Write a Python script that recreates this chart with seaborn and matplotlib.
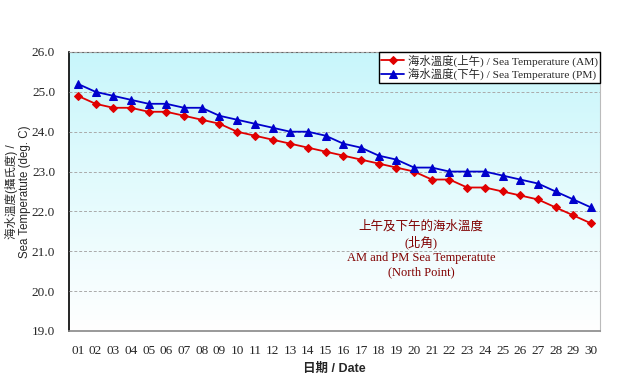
import seaborn as sns
import pandas as pd
import numpy as np
import matplotlib.pyplot as plt
from matplotlib.colors import LinearSegmentedColormap

days = ['%02d' % d for d in range(1, 31)]
am_temp = [24.9, 24.7, 24.6, 24.6, 24.5, 24.5, 24.4, 24.3, 24.2, 24.0,
           23.9, 23.8, 23.7, 23.6, 23.5, 23.4, 23.3, 23.2, 23.1, 23.0,
           22.8, 22.8, 22.6, 22.6, 22.5, 22.4, 22.3, 22.1, 21.9, 21.7]
pm_temp = [25.2, 25.0, 24.9, 24.8, 24.7, 24.7, 24.6, 24.6, 24.4, 24.3,
           24.2, 24.1, 24.0, 24.0, 23.9, 23.7, 23.6, 23.4, 23.3, 23.1,
           23.1, 23.0, 23.0, 23.0, 22.9, 22.8, 22.7, 22.5, 22.3, 22.1]
am_label = '海水溫度(上午) / Sea Temperature (AM)'
pm_label = '海水溫度(下午) / Sea Temperature (PM)'

df = pd.DataFrame({'Date': days, 'AM': am_temp, 'PM': pm_temp})

sns.set_style('white')
plt.rcParams['font.family'] = ['Liberation Serif', 'Noto Sans CJK TC']

fig = plt.figure(figsize=(6.35, 3.9), dpi=100)
ax = fig.add_axes([0.1087, 0.1513, 0.836, 0.7154])

# background gradient (light cyan -> white)
grad = np.linspace(0, 1, 256).reshape(-1, 1)
cmap = LinearSegmentedColormap.from_list('bg', ['#ffffff', '#c8f6fb'])
ax.imshow(grad, aspect='auto', cmap=cmap, origin='lower',
          extent=[-0.5, 29.5, 19, 26], zorder=0)

x = np.arange(len(days))
sns.lineplot(x=x, y=df['AM'], color='#e00000', marker='D', markersize=4.5,
             markeredgecolor='#e00000', linewidth=1.3, label=am_label, ax=ax, zorder=3)
sns.lineplot(x=x, y=df['PM'], color='#0000cc', marker='^', markersize=6,
             markeredgecolor='#0000cc', linewidth=1.3, label=pm_label, ax=ax, zorder=3)

ax.set_xlim(-0.5, 29.5)
ax.set_ylim(19, 26)
ax.set_yticks(np.arange(19, 26.1, 1))
ax.set_yticklabels(['%.1f' % v for v in np.arange(19, 26.1, 1)], fontsize=9.5)
ax.set_xticks(x)
ax.set_xticklabels(days, fontsize=9.5)
ax.tick_params(axis='x', length=0, pad=10)
ax.tick_params(axis='y', length=0, pad=10)
ax.set_xticks(np.arange(-0.5, 30, 1), minor=True)
ax.tick_params(axis='x', which='minor', direction='in', length=3, color='#555555')
ax.yaxis.grid(True, linestyle=(0, (3, 2)), color='#aaaaaa', linewidth=0.7)
ax.set_axisbelow(False)

ax.spines['left'].set_color('black')
ax.spines['left'].set_linewidth(1.2)
ax.spines['bottom'].set_color('#888888')
ax.spines['bottom'].set_linewidth(1.2)
ax.spines['top'].set_color('#666666')
ax.spines['right'].set_color('#bbbbbb')

ax.set_xlabel('日期 / Date', fontsize=9, fontweight='bold',
              family=['Liberation Sans', 'Noto Sans CJK TC'], labelpad=4)
ax.set_ylabel('海水溫度(攝氏度) /\nSea Temperatute (deg. C)', fontsize=8.3,
              family=['Liberation Sans', 'Noto Sans CJK TC'], linespacing=1.1)
ax.yaxis.set_label_coords(-0.072, 0.5)

leg = ax.legend(loc='upper right', fontsize=8.2, frameon=True, fancybox=False,
                borderaxespad=0, handlelength=2.0, borderpad=0.2,
                labelspacing=0.15, handletextpad=0.3)
leg.get_frame().set_edgecolor('black')
leg.get_frame().set_facecolor('white')
leg.get_frame().set_alpha(1)

ax.text(19.4, 21.05, '上午及下午的海水溫度\n(北角)\nAM and PM Sea Temperatute\n(North Point)',
        ha='center', va='center', fontsize=9, color='#800000', linespacing=1.25)

fig.savefig('out.png', dpi=100)
